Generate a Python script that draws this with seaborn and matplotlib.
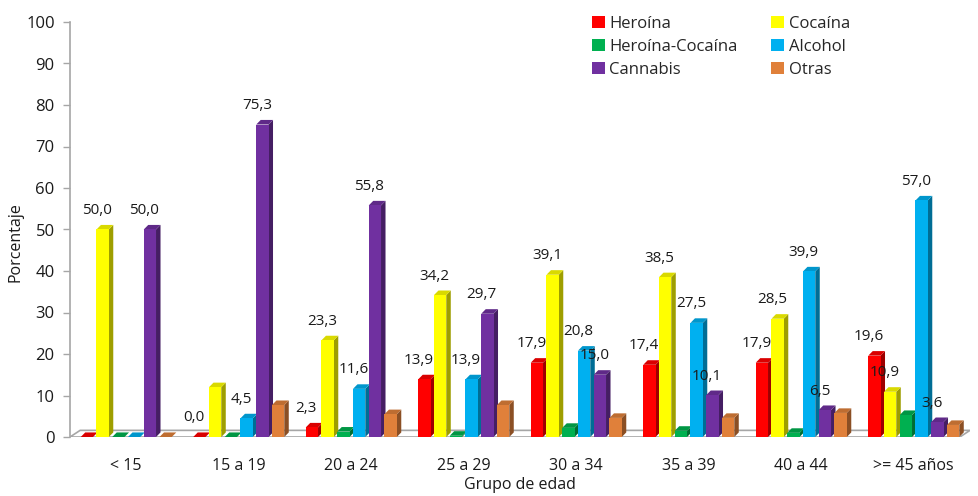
import matplotlib
matplotlib.use("Agg")
import matplotlib.pyplot as plt
from matplotlib.patches import Polygon, Patch
from matplotlib.colors import to_rgb
import seaborn as sns
import pandas as pd

# ---- data ----
groups = ["< 15", "15 a 19", "20 a 24", "25 a 29", "30 a 34", "35 a 39", "40 a 44", ">= 45 años"]
series = ["Heroína", "Cocaína", "Heroína-Cocaína", "Alcohol", "Cannabis", "Otras"]
heroina = [0.0, 0.0, 2.3, 13.9, 17.9, 17.4, 17.9, 19.6]
cocaina = [50.0, 12.0, 23.3, 34.2, 39.1, 38.5, 28.5, 10.9]
heroina_cocaina = [0.0, 0.0, 1.3, 0.3, 2.2, 1.5, 1.0, 5.3]
alcohol = [0.0, 4.5, 11.6, 13.9, 20.8, 27.5, 39.9, 57.0]
cannabis = [50.0, 75.3, 55.8, 29.7, 15.0, 10.1, 6.5, 3.6]
otras = [0.0, 7.7, 5.5, 7.7, 4.6, 4.6, 5.8, 2.9]
values = [heroina, cocaina, heroina_cocaina, alcohol, cannabis, otras]
# which values carry a data label in the reference
show_heroina = [False, True, True, True, True, True, True, True]
show_cocaina = [True, False, True, True, True, True, True, True]
show_hc = [False] * 8
show_alcohol = [False, True, True, True, True, True, True, True]
show_cannabis = [True] * 8
show_otras = [False] * 8
show = [show_heroina, show_cocaina, show_hc, show_alcohol, show_cannabis, show_otras]

colors = ["#FF0000", "#FFFF00", "#00B050", "#00B0F0", "#7030A0", "#E0803A"]

rows = []
for s, vals in zip(series, values):
    for g, v in zip(groups, vals):
        rows.append({"grupo": g, "serie": s, "valor": v})
df = pd.DataFrame(rows)

sns.set_theme(style="white")
plt.rcParams["font.family"] = ["Open Sans", "DejaVu Sans"]

fig = plt.figure(figsize=(9.79, 4.96), dpi=100)
ax = fig.add_axes([70 / 979, 1 - 437 / 496, 900 / 979, (437 - 22) / 496])

sns.barplot(data=df, x="grupo", y="valor", hue="serie", order=groups,
            hue_order=series, palette=colors, width=0.84, gap=0.22,
            saturation=1, ax=ax, legend=False, edgecolor="none")

ax.set_ylim(0, 100)
ax.set_xlim(-0.5, 7.5)

# pseudo-3D faces derived from the bar geometry
dx = 0.04
dy = 1.1


def shade(c, f):
    r, g, b = to_rgb(c)
    return (r * f, g * f, b * f)


# floor
floor = Polygon([(-0.5, 0), (-0.5 + 0.09, 1.6), (7.5, 1.6), (7.5 - 0.09, 0)],
                closed=True, facecolor="white", edgecolor="#A6A6A6", lw=1.2, zorder=0.5)
ax.add_patch(floor)

for cont, col, vals, sh in zip(ax.containers, colors, values, show):
    for rect, v, s in zip(cont.patches, vals, sh):
        x0 = rect.get_x()
        w = rect.get_width()
        h = rect.get_height()
        side = Polygon([(x0 + w, 0), (x0 + w + dx, dy), (x0 + w + dx, h + dy), (x0 + w, h)],
                       closed=True, facecolor=shade(col, 0.62), edgecolor="none", zorder=2)
        top = Polygon([(x0, h), (x0 + dx, h + dy), (x0 + w + dx, h + dy), (x0 + w, h)],
                      closed=True, facecolor=shade(col, 0.85), edgecolor="none", zorder=2)
        ax.add_patch(side)
        ax.add_patch(top)
        rect.set_zorder(2.1)
        if s:
            ax.annotate(f"{v:.1f}".replace(".", ","), (x0 + w / 2, h + dy),
                        xytext=(-4, 5), textcoords="offset points",
                        ha="center", va="bottom", fontsize=11, color="#1a1a1a")

ax.set_yticks(range(0, 101, 10))
ax.tick_params(axis="y", which="both", left=True, length=5, width=1, color="#A6A6A6",
               labelsize=12, labelcolor="#1a1a1a", pad=6)
ax.tick_params(axis="x", bottom=False, labelsize=11.5, labelcolor="#1a1a1a", pad=9)

for sp in ["top", "right", "bottom"]:
    ax.spines[sp].set_visible(False)
ax.spines["left"].set_color("#A6A6A6")
ax.spines["left"].set_linewidth(1.2)

ax.set_ylabel("Porcentaje", fontsize=11.5, color="#1a1a1a")
ax.set_xlabel("Grupo de edad", fontsize=11.5, color="#1a1a1a", labelpad=2)
ax.yaxis.set_label_coords(-0.052, 0.47)

# legend: column-wise fill, so order handles to give rows
# (Heroína, Cocaína) / (Heroína-Cocaína, Alcohol) / (Cannabis, Otras)
leg_order = [0, 2, 4, 1, 3, 5]
handles = [Patch(facecolor=colors[i], edgecolor="none") for i in leg_order]
labels = [series[i] for i in leg_order]
leg = fig.legend(handles, labels, ncol=2, loc="upper left",
                 bbox_to_anchor=(577 / 979, 1 - 1 / 496), frameon=False,
                 fontsize=12, handlelength=0.75, handleheight=0.75,
                 handletextpad=0.3, columnspacing=2.0, labelspacing=0.42)

fig.savefig("out.png", dpi=100)
